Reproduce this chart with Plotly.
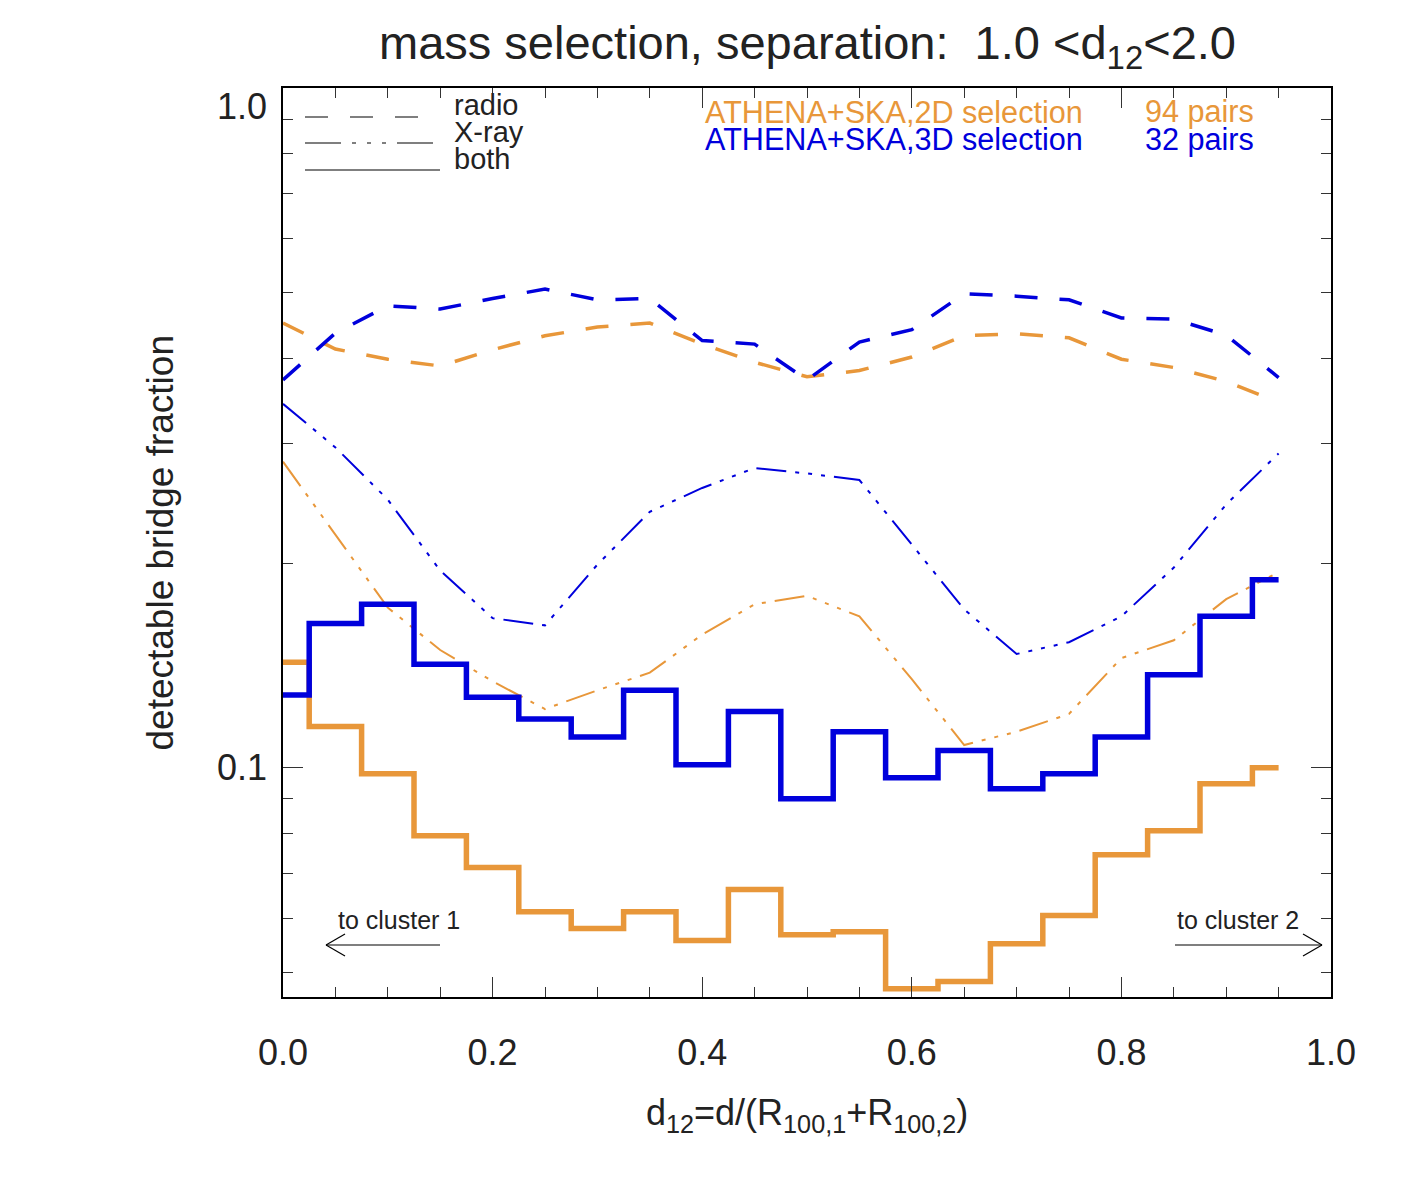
import plotly.graph_objects as go
import numpy as np

# ---------------- data ----------------
d12 = [0.00, 0.05, 0.10, 0.15, 0.20, 0.25, 0.30, 0.35, 0.40, 0.45,
       0.50, 0.55, 0.60, 0.65, 0.70, 0.75, 0.80, 0.85, 0.90, 0.95]

# ATHENA+SKA, 2D selection (orange)
radio_2d = [0.451, 0.413, 0.399, 0.390, 0.412, 0.432, 0.445, 0.451, 0.420, 0.395,
            0.376, 0.384, 0.402, 0.432, 0.435, 0.429, 0.399, 0.388, 0.370, 0.345]
xray_2d = [0.282, 0.220, 0.172, 0.149, 0.134, 0.122, 0.130, 0.138, 0.157, 0.174,
           0.179, 0.167, 0.135, 0.108, 0.113, 0.120, 0.145, 0.154, 0.177, 0.194]
both_2d = [0.143, 0.115, 0.098, 0.0794, 0.0713, 0.0614, 0.0580, 0.0614, 0.0557, 0.0662,
           0.0568, 0.0574, 0.0473, 0.0485, 0.0551, 0.0606, 0.0745, 0.0808, 0.0947, 0.100]

# ATHENA+SKA, 3D selection (blue)
radio_3d = [0.372, 0.436, 0.478, 0.473, 0.490, 0.506, 0.488, 0.490, 0.425, 0.420,
            0.372, 0.423, 0.441, 0.498, 0.494, 0.488, 0.459, 0.457, 0.433, 0.375]
xray_3d = [0.343, 0.296, 0.248, 0.195, 0.166, 0.162, 0.199, 0.238, 0.258, 0.276,
           0.271, 0.265, 0.213, 0.171, 0.147, 0.153, 0.167, 0.197, 0.244, 0.290]
both_3d = [0.128, 0.163, 0.174, 0.142, 0.127, 0.118, 0.111, 0.130, 0.101, 0.121,
           0.090, 0.113, 0.0967, 0.106, 0.0931, 0.098, 0.111, 0.137, 0.167, 0.189]

x_ticks = [0.0, 0.2, 0.4, 0.6, 0.8, 1.0]
x_ticklabels = ["0.0", "0.2", "0.4", "0.6", "0.8", "1.0"]
y_major = [0.1]
y_major_labels = ["0.1"]
y_minor = [0.05, 0.06, 0.07, 0.08, 0.09, 0.2, 0.3, 0.4, 0.5, 0.6, 0.7, 0.8, 0.9]

ORANGE = "#E8973A"
BLUE = "#0000DC"
TXT = "#222222"
FONT = "Liberation Sans, Arial, sans-serif"

RADIO_DASH = "23px,22px"
XRAY_DASH = "30px,9px,4px,9px,4px,9px,4px,9px"

fig = go.Figure()

def add(y, color, width, dash=None, shape="linear"):
    fig.add_trace(go.Scatter(
        x=d12, y=y, mode="lines",
        line=dict(color=color, width=width, dash=dash, shape=shape),
        showlegend=False, hoverinfo="skip"))

add(radio_2d, ORANGE, 3.5, RADIO_DASH)
add(xray_2d, ORANGE, 2, XRAY_DASH)
add(both_2d, ORANGE, 5.5, None, "hvh")
add(radio_3d, BLUE, 3.5, RADIO_DASH)
add(xray_3d, BLUE, 2, XRAY_DASH)
add(both_3d, BLUE, 5.5, None, "hvh")

W, H = 1416, 1179
L, R, T, B = 283, 85, 88, 182
plot_h = H - T - B
plot_w = W - L - R

def py(ypix):
    return (H - B - ypix) / plot_h

def px(xpix):
    return (xpix - L) / plot_w

annotations = []
def text(s, x, y, size, color=TXT, xanchor="left", xref="x", angle=0):
    annotations.append(dict(text=s, x=x, y=y, xref=xref, yref="paper",
                            xanchor=xanchor, yanchor="middle", showarrow=False,
                            textangle=angle,
                            font=dict(size=size, color=color, family=FONT)))

# title
text("mass selection, separation:&nbsp;&nbsp;1.0 &lt;d<sub>12</sub>&lt;2.0",
     0.5, py(46), 47, xanchor="center", xref="paper")
# axis titles
text("d<sub>12</sub>=d/(R<sub>100,1</sub>+R<sub>100,2</sub>)",
     0.5, py(1115), 36, xanchor="center", xref="paper")
text("detectable bridge fraction", px(160), 0.5, 37, xanchor="center",
     xref="paper", angle=-90)
# top y label
text("1.0", px(269), py(106), 36, xanchor="right", xref="paper")

# legend of line styles
text("radio", px(452), py(105), 29)
text("X-ray", px(452), py(132), 29)
text("both", px(452), py(159), 29)
# selection labels
text("ATHENA+SKA,2D selection", px(703), py(112), 30.6, color=ORANGE)
text("ATHENA+SKA,3D selection", px(703), py(139), 30.6, color=BLUE)
text("94 pairs", px(1143), py(112), 30.6, color=ORANGE)
text("32 pairs", px(1143), py(139), 30.6, color=BLUE)
# directions
text("to cluster 1", px(336), py(920), 25)
text("to cluster 2", px(1175), py(920), 25)

shapes = []
def seg(x0, y0, x1, y1, dash=None, width=1.2):
    shapes.append(dict(type="line", xref="paper", yref="paper",
                       x0=px(x0), y0=py(y0), x1=px(x1), y1=py(y1),
                       line=dict(color="black", width=width, dash=dash)))

seg(305, 117, 440, 117, RADIO_DASH)
seg(305, 143, 440, 143, "36px,11px,4px,11px,4px,11px,4px,11px")
seg(305, 170, 440, 170)
# arrows
seg(326, 945, 440, 945)
seg(326, 945, 345, 934)
seg(326, 945, 345, 956)
seg(1175, 945, 1322, 945)
seg(1322, 945, 1303, 934)
seg(1322, 945, 1303, 956)

fig.update_layout(
    width=W, height=H,
    margin=dict(l=L, r=R, t=T, b=B),
    paper_bgcolor="white", plot_bgcolor="white",
    font=dict(family=FONT, color=TXT),
    annotations=annotations, shapes=shapes,
    showlegend=False,
)
fig.update_xaxes(
    range=[0, 1], showgrid=False, zeroline=False,
    showline=True, linecolor="black", linewidth=1.5, mirror="allticks",
    ticks="inside", ticklen=20, tickwidth=1.2, tickcolor="#333",
    tickvals=x_ticks, ticktext=x_ticklabels,
    tickfont=dict(size=36, color=TXT, family=FONT),
    ticklabelstandoff=23,
    minor=dict(ticks="inside", dtick=0.05, ticklen=10, tickwidth=1.2, tickcolor="#333"),
)
fig.update_yaxes(
    type="log", range=[np.log10(0.046), 0], showgrid=False, zeroline=False,
    showline=True, linecolor="black", linewidth=1.5, mirror="allticks",
    ticks="inside", ticklen=20, tickwidth=1.2, tickcolor="#333",
    tickvals=y_major, ticktext=y_major_labels,
    tickfont=dict(size=36, color=TXT, family=FONT),
    ticklabelstandoff=7,
    minor=dict(ticks="inside", tickvals=y_minor, ticklen=10, tickwidth=1.2, tickcolor="#333"),
)

fig.write_html("out.html", config={"displayModeBar": False},
               post_script="document.body.style.margin='0';")
